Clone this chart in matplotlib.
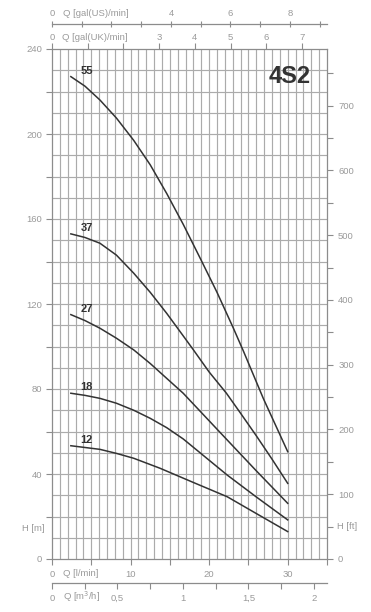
import matplotlib
matplotlib.use("Agg")
import matplotlib.pyplot as plt
from matplotlib.ticker import FixedLocator, FixedFormatter

plt.rcParams['font.family'] = ['Liberation Sans', 'DejaVu Sans']

# ---- data (Q in l/min, H in m) ----
q55 = [2.4, 4.2, 6.1, 8.2, 10.4, 12.5, 14.6, 16.7, 19.0, 21.0, 23.1, 24.4, 26.9, 30.0]
h55 = [227, 222.5, 216, 207.5, 197, 185.5, 172, 157.5, 140.5, 125.5, 108.5, 97.5, 75.5, 50.5]
q37 = [2.4, 4.2, 6.1, 8.2, 10.4, 12.5, 14.6, 16.7, 18.0, 20.0, 22.2, 24.0, 26.0, 28.0, 30.0]
h37 = [153, 151.3, 148.6, 143, 134.5, 125.5, 115.6, 105, 98.4, 88, 78, 68.6, 58, 47, 35.6]
q27 = [2.4, 4.2, 6.1, 8.2, 10.4, 12.5, 14.6, 16.7, 19.5, 22.3, 26.0, 30.0]
h27 = [115, 112.2, 108.6, 103.9, 98.4, 92, 85, 78, 67, 56, 41.5, 26.2]
q18 = [2.4, 4.2, 6.1, 8.2, 10.4, 12.5, 14.6, 16.7, 19.5, 22.3, 26.0, 30.0]
h18 = [78, 77, 75.6, 73.3, 70, 66.2, 61.8, 56.5, 48, 39.5, 29.2, 18.4]
q12 = [2.4, 6.1, 8.2, 10.4, 13.75, 18.0, 22.3, 26.0, 30.0]
h12 = [53.3, 51.6, 49.7, 47.4, 42.7, 36, 29.3, 21.4, 12.9]

curves = [("55", q55, h55), ("37", q37, h37), ("27", q27, h27),
          ("18", q18, h18), ("12", q12, h12)]

title = "4S2"
lmin_ticks = [0, 5, 10, 15, 20, 25, 30, 35]
lmin_labels = ['0', '', '10', '', '20', '', '30', '']
m_ticks = list(range(0, 260, 20))
m_labels = [(str(v) if v % 40 == 0 else '') for v in m_ticks]
ft_ticks = list(range(0, 800, 50))
ft_labels = [(str(v) if v % 100 == 0 else '') for v in ft_ticks]
uk_ticks = list(range(0, 8))
uk_labels = ['0', '', '', '3', '4', '5', '6', '7']
us_ticks = list(range(0, 10))
us_labels = ['0', '', '', '', '4', '', '6', '', '8', '']
m3h_ticks = [0, 0.25, 0.5, 0.75, 1.0, 1.25, 1.5, 1.75, 2.0]
m3h_labels = ['0', '', '0,5', '', '1', '', '1,5', '', '2']

GAL_US = 3.78541
GAL_UK = 4.54609
FT = 0.3048

QMAX = 35.0
HMAX = 240.0

gray_txt = '#9a9a9a'
spine_c = '#8c8c8c'
grid_c = '#ababab'
curve_c = '#333333'
fs = 6.8

fig = plt.figure(figsize=(3.71, 6.12), dpi=100)
L, R = 52 / 371, 327 / 371
B, T = 1 - 559 / 612, 1 - 49 / 612
ax = fig.add_axes([L, B, R - L, T - B])
ax.set_xlim(0, QMAX)
ax.set_ylim(0, HMAX)

# grid
for q in range(1, 35):
    ax.axvline(q, color=grid_c, lw=0.85, zorder=1)
for h in range(10, 240, 10):
    ax.axhline(h, color=grid_c, lw=0.85, zorder=1)

for s in ax.spines.values():
    s.set_color(spine_c)
    s.set_linewidth(0.9)

# curves
for lab, q, h in curves:
    ax.plot(q, h, color=curve_c, lw=1.1, zorder=3, solid_joinstyle='round')
    ax.text(q[0] + 2.0, h[0] + 2.8, lab, fontsize=8, fontweight='bold',
            color='#333333', ha='center', va='center', zorder=4)

ax.text(30.2, 227, title, fontsize=17, fontweight='bold', color='#333333',
        ha='center', va='center', zorder=4)

# left axis (m)
ax.yaxis.set_major_locator(FixedLocator(m_ticks))
ax.yaxis.set_major_formatter(FixedFormatter(m_labels))
ax.tick_params(axis='y', direction='out', length=4, width=0.8, color=spine_c,
               labelsize=fs, labelcolor=gray_txt, pad=3)
ax.text(-0.9, 14.5, 'H [m]', fontsize=fs, color=gray_txt, ha='right', va='center')

# bottom axis (l/min)
ax.xaxis.set_major_locator(FixedLocator(lmin_ticks))
ax.xaxis.set_major_formatter(FixedFormatter(lmin_labels))
ax.tick_params(axis='x', direction='out', length=4, width=0.8, color=spine_c,
               labelsize=fs, labelcolor=gray_txt, pad=4)
ax.text(1.4, -6.6, 'Q [l/min]', fontsize=fs, color=gray_txt, ha='left', va='center')

# right axis (ft)
axr = ax.twinx()
axr.set_ylim(0, HMAX / FT)
axr.yaxis.set_major_locator(FixedLocator(ft_ticks))
axr.yaxis.set_major_formatter(FixedFormatter(ft_labels))
axr.tick_params(axis='y', direction='out', length=4, width=0.8, color=spine_c,
                labelsize=fs, labelcolor=gray_txt, pad=4)
for s in axr.spines.values():
    s.set_visible(False)
axr.text(QMAX * 1.036, 50, 'H [ft]', fontsize=fs,
         color=gray_txt, ha='left', va='center')

# top axis (gal UK)
axt = ax.secondary_xaxis('top', functions=(lambda x: x / GAL_UK, lambda x: x * GAL_UK))
axt.xaxis.set_major_locator(FixedLocator(uk_ticks))
axt.xaxis.set_major_formatter(FixedFormatter(uk_labels))
axt.tick_params(direction='out', length=4, width=0.8, color=spine_c,
                labelsize=fs, labelcolor=gray_txt, pad=1)
axt.spines['top'].set_visible(False)
ax.text(1.3, 245.3, 'Q [gal(UK)/min]', fontsize=fs, color=gray_txt,
        ha='left', va='center')

# US gallons axis (separate line)
axu = fig.add_axes([L, 1 - 24 / 612, R - L, 1e-5])
axu.set_xlim(0, QMAX / GAL_US)
axu.set_yticks([])
for k in ['left', 'right', 'top']:
    axu.spines[k].set_visible(False)
axu.spines['bottom'].set_color(spine_c)
axu.spines['bottom'].set_linewidth(0.9)
axu.patch.set_visible(False)
axu.xaxis.set_major_locator(FixedLocator(us_ticks))
axu.xaxis.set_major_formatter(FixedFormatter(us_labels))
axu.tick_params(axis='x', direction='inout', length=5, width=0.8, color=spine_c,
                labelsize=fs, labelcolor=gray_txt, top=False, bottom=True,
                labeltop=True, labelbottom=False, pad=2)

# m3/h axis (separate line)
axm = fig.add_axes([L, 1 - 583 / 612, R - L, 1e-5])
axm.set_xlim(0, QMAX * 60 / 1000)
axm.set_yticks([])
for k in ['left', 'right', 'top']:
    axm.spines[k].set_visible(False)
axm.spines['bottom'].set_color(spine_c)
axm.spines['bottom'].set_linewidth(0.9)
axm.patch.set_visible(False)
axm.xaxis.set_major_locator(FixedLocator(m3h_ticks))
axm.xaxis.set_major_formatter(FixedFormatter(m3h_labels))
axm.tick_params(axis='x', direction='out', length=4, width=0.8, color=spine_c,
                labelsize=fs, labelcolor=gray_txt, pad=4)

fig.text(63 / 371, 1 - 597 / 612, 'Q [m$^3$/h]', fontsize=fs, color=gray_txt,
         ha='left', va='center')
fig.text(63 / 371, 1 - 14 / 612, 'Q [gal(US)/min]', fontsize=fs, color=gray_txt,
         ha='left', va='center')

fig.savefig('out.png', dpi=100)
